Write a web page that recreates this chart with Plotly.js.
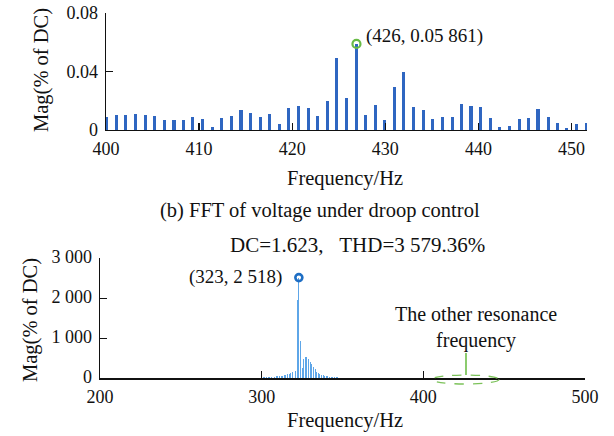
<!DOCTYPE html>
<html>
<head>
<meta charset="utf-8">
<script src="https://cdn.plot.ly/plotly-3.0.1.min.js"></script>
<style>html,body{margin:0;padding:0;background:#fff}#chart{width:614px;height:436px}</style>
</head>
<body>
<div id="chart"></div>
<script>
// ---- Data: (b) zoomed spectrum 400-452 Hz ----
var zoomFreq = [400.1,401.1,402.1,403.2,404.2,405.2,406.3,407.3,408.3,409.3,410.4,411.4,412.4,413.5,414.5,415.5,416.6,417.6,418.6,419.6,420.7,421.7,422.7,423.8,424.8,425.8,426.9,427.9,428.9,429.9,431.0,432.0,433.0,434.1,435.1,436.1,437.2,438.2,439.2,440.2,441.3,442.3,443.3,444.4,445.4,446.4,447.5,448.5,449.5,450.5,451.6];
var zoomMag = [0.0089,0.0105,0.0105,0.0109,0.0102,0.0093,0.0069,0.0071,0.0071,0.0091,0.0078,0.0022,0.0084,0.0098,0.0136,0.0118,0.0089,0.0109,0.0040,0.0153,0.0162,0.0147,0.0093,0.0200,0.0489,0.0216,0.05861,0.0100,0.0171,0.0067,0.0295,0.0393,0.0158,0.0136,0.0073,0.0091,0.0091,0.0180,0.0164,0.0156,0.0084,0.0020,0.0027,0.0078,0.0080,0.0140,0.0091,0.0051,0.0013,0.0040,0.0047];
var zoomPeak = {freq: 426.9, mag: 0.05861, label: "(426, 0.05 861)"};

// ---- Data: full spectrum 200-500 Hz ----
var fullFreq = [300,301,302,303,304,305,306,307,308,309,310,311,312,313,314,315,316,317,318,319,320,321,322,323,324,325,326,327,328,329,330,331,332,333,334,335,336,337,338,339,340,341,342,343,344,345,346,347,348,349,350,351,352,353,354,355,356,357];
var fullMag  = [20,20,25,25,30,30,35,40,40,45,50,55,60,65,75,85,95,110,120,150,380,170,1950,2518,920,260,470,540,520,470,415,350,290,230,165,130,105,90,80,65,55,45,40,35,30,25,22,20,18,15,12,10,9,8,7,6,5,4];
var fullPeak = {freq: 323, mag: 2518, label: "(323, 2 518)"};
var statsText = "DC=1.623,\u00a0\u00a0\u00a0THD=3 579.36%";

var topYTicks = [0, 0.04, 0.08], topYText = ["0", "0.04", "0.08"];
var topXTicks = [400, 410, 420, 430, 440, 450];
var botYTicks = [0, 1000, 2000, 3000], botYText = ["0", "1 000", "2 000", "3 000"];
var botXTicks = [200, 300, 400, 500];

var W = 614, H = 436;
function px(x){return x / W;}
function py(y){return 1 - y / H;}
var FONT = "Liberation Serif, Times New Roman, serif";
var TXT = "#111";
var FT = 18;   // tick labels
var FA = 20.5; // titles / notes

var traces = [
  {type: "bar", x: zoomFreq, y: zoomMag, width: 0.33, marker: {color: "#2f66c1"}, xaxis: "x", yaxis: "y", hoverinfo: "skip"},
  {type: "scatter", mode: "markers", x: [zoomPeak.freq], y: [zoomPeak.mag], xaxis: "x", yaxis: "y",
   marker: {symbol: "circle-open", size: 8, color: "#68bb45", line: {width: 2.2, color: "#68bb45"}}, cliponaxis: false},
  {type: "bar", x: fullFreq, y: fullMag, width: 0.6, marker: {color: "#5ea6e8"}, xaxis: "x2", yaxis: "y2", hoverinfo: "skip"},
  {type: "scatter", mode: "markers", x: [fullPeak.freq], y: [fullPeak.mag], xaxis: "x2", yaxis: "y2",
   marker: {symbol: "circle-open", size: 7, color: "#1e6ec4", line: {width: 2.6, color: "#1e6ec4"}}, cliponaxis: false}
];

var axBase = {
  showgrid: false, zeroline: false, showline: true, linecolor: "#111", linewidth: 1.3,
  ticks: "inside", ticklen: 7, tickwidth: 1.3, tickcolor: "#111", ticklabeloverflow: "allow",
  tickfont: {family: FONT, size: FT, color: TXT}, mirror: false, fixedrange: true
};
function ax(o){return Object.assign({}, axBase, o);}
function note(x, y, text, o){
  return Object.assign({xref: "paper", yref: "paper", x: px(x), y: py(y), text: text, showarrow: false,
    xanchor: "center", yanchor: "middle", font: {family: FONT, size: FA, color: TXT}}, o || {});
}

var layout = {
  width: W, height: H, margin: {l: 0, r: 0, t: 0, b: 0},
  paper_bgcolor: "#fff", plot_bgcolor: "#fff", showlegend: false, bargap: 0,
  font: {family: FONT, size: FA, color: TXT},
  xaxis: ax({domain: [px(106), px(587)], range: [400, 451.66], tickvals: topXTicks, anchor: "y", ticklabelstandoff: 2}),
  yaxis: ax({domain: [py(130), py(12.5)], range: [0, 0.08], tickvals: topYTicks, ticktext: topYText, anchor: "x", ticklabelstandoff: 3, ticklabelshift: -2.5}),
  xaxis2: ax({domain: [px(100), px(585)], range: [200, 500], tickvals: botXTicks, anchor: "y2", ticklabelstandoff: 2}),
  yaxis2: ax({domain: [py(378.3), py(258.3)], range: [0, 3000], tickvals: botYTicks, ticktext: botYText, anchor: "x2", ticklabelstandoff: 3, ticklabelshift: -2}),
  annotations: [
    note(41, 70, "Mag(% of DC)", {textangle: -90}),
    note(345, 178, "Frequency/Hz"),
    note(320, 210, "(b) FFT of voltage under droop control"),
    note(364, 36, zoomPeak.label, {xanchor: "left", font: {family: FONT, size: 19, color: TXT}}),
    note(228, 245, statsText, {xanchor: "left", font: {family: FONT, size: 21, color: TXT}}),
    note(284, 277, fullPeak.label, {xanchor: "right", font: {family: FONT, size: 19, color: TXT}}),
    note(30, 320, "Mag(% of DC)", {textangle: -90}),
    note(345, 420, "Frequency/Hz"),
    note(476, 327, "The other resonance<br>frequency", {font: {family: FONT, size: 20, color: TXT}})
  ],
  shapes: [
    {type: "path", xref: "paper", yref: "paper", layer: "above",
     path: "M " + px(466) + "," + py(353) + " L " + px(466) + "," + py(375), line: {color: "#6fbf4a", width: 1.6}},
    {type: "circle", xref: "paper", yref: "paper", x0: px(432), x1: px(499), y0: py(384), y1: py(375), line: {color: "#7cc25a", width: 1.3, dash: "dash"}}
  ]
};

Plotly.newPlot("chart", traces, layout, {displayModeBar: false, staticPlot: true});
</script>
</body>
</html>
